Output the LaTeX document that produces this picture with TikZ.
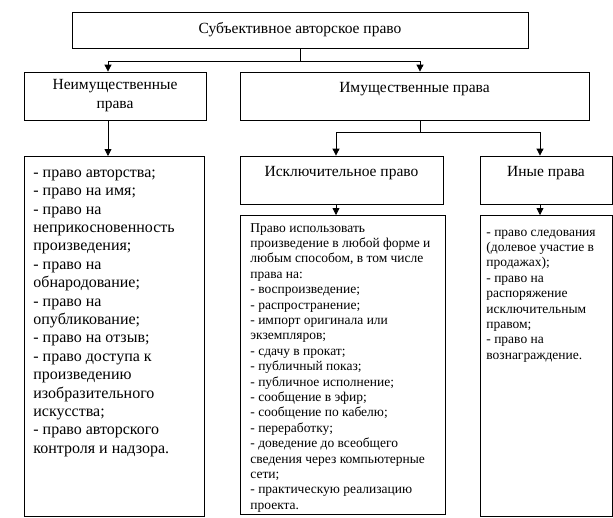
\documentclass[tikz,border=0pt]{standalone}
\usepackage{fontspec}
\setmainfont{Liberation Serif}
\usetikzlibrary{arrows.meta}
\tikzset{
    every node/.style={font=\fontsize{15.5}{19}\selectfont},
    wire/.style={line width=0.8pt},
    line/.style={-{Triangle[length=7pt,width=7pt]}, line width=0.8pt},
    head/.style={rectangle, draw, line width=0.8pt, align=center, inner sep=2pt},
    headtop/.style={head, text height=11pt, text depth=19pt},
    listbox/.style={rectangle, draw, line width=0.8pt, anchor=north west, inner xsep=9pt, inner ysep=8pt},
    smalltext/.style={font=\fontsize{13.5}{15.4}\selectfont}
}

\begin{document}
\begin{tikzpicture}[x=1pt, y=-1pt]
\useasboundingbox (0,0) rectangle (613,517);

% headings
\node[head, minimum width=456pt, minimum height=36pt] (top) at (300,30) {Субъективное авторское право};
\node[head, minimum width=182pt, minimum height=48pt] (nonprop) at (115,96) {Неимущественные\\права};
\node[headtop, minimum width=349pt, minimum height=48pt] (prop) at (414.5,96) {Имущественные права};
\node[headtop, minimum width=203pt, minimum height=48pt] (excl) at (341.5,180) {Исключительное право};
\node[headtop, minimum width=132pt, minimum height=48pt] (other) at (546,180) {Иные права};

% lists
\node[listbox, font=\fontsize{16}{18.4}\selectfont] (list1) at (24,156) {%
\begin{minipage}[t][344pt][t]{162pt}\raggedright
\strut- право авторства;\\
- право на имя;\\
- право на\\
неприкосновенность\\
произведения;\\
- право на\\
обнародование;\\
- право на\\
опубликование;\\
- право на отзыв;\\
- право доступа к\\
произведению\\
изобразительного\\
искусства;\\
- право авторского\\
контроля и надзора.
\end{minipage}};

\node[listbox, smalltext, inner xsep=10pt, inner ysep=6pt] (list2) at (240,215) {%
\begin{minipage}[t][287pt][t]{185pt}\raggedright
\strut Право использовать\\
произведение в любой форме и\\
любым способом, в том числе\\
права на:\\
- воспроизведение;\\
- распространение;\\
- импорт оригинала или\\
экземпляров;\\
- сдачу в прокат;\\
- публичный показ;\\
- публичное исполнение;\\
- сообщение в эфир;\\
- сообщение по кабелю;\\
- переработку;\\
- доведение до всеобщего\\
сведения через компьютерные\\
сети;\\
- практическую реализацию\\
проекта.
\end{minipage}};

\node[listbox, smalltext, inner xsep=6pt, inner ysep=10pt] (list3) at (480,215) {%
\begin{minipage}[t][281pt][t]{120pt}\raggedright
\strut- право следования\\
(долевое участие в\\
продажах);\\
- право на\\
распоряжение\\
исключительным\\
правом;\\
- право на\\
вознаграждение.
\end{minipage}};

% connectors
\coordinate (split1) at ([yshift=-13pt]top.south);
\draw[wire] (top.south) -- (split1);
\draw[line] (split1) -| ([xshift=-7pt]nonprop.north);
\draw[line] (split1) -| ([xshift=5.5pt]prop.north);

\coordinate (split2) at ([xshift=5.5pt,yshift=-12pt]prop.south);
\draw[wire] ([xshift=5.5pt]prop.south) -- (split2);
\draw[line] (split2) -| ([xshift=-5.5pt]excl.north);
\draw[line] (split2) -| ([xshift=-6pt]other.north);

\draw[line] ([xshift=-7pt]nonprop.south) -- ([xshift=-7pt]nonprop.south |- list1.north);
\draw[line] ([xshift=-5.5pt]excl.south) -- ([xshift=-5.5pt]excl.south |- list2.north);
\draw[line] ([xshift=-6pt]other.south) -- ([xshift=-6pt]other.south |- list3.north);

\end{tikzpicture}
\end{document}
